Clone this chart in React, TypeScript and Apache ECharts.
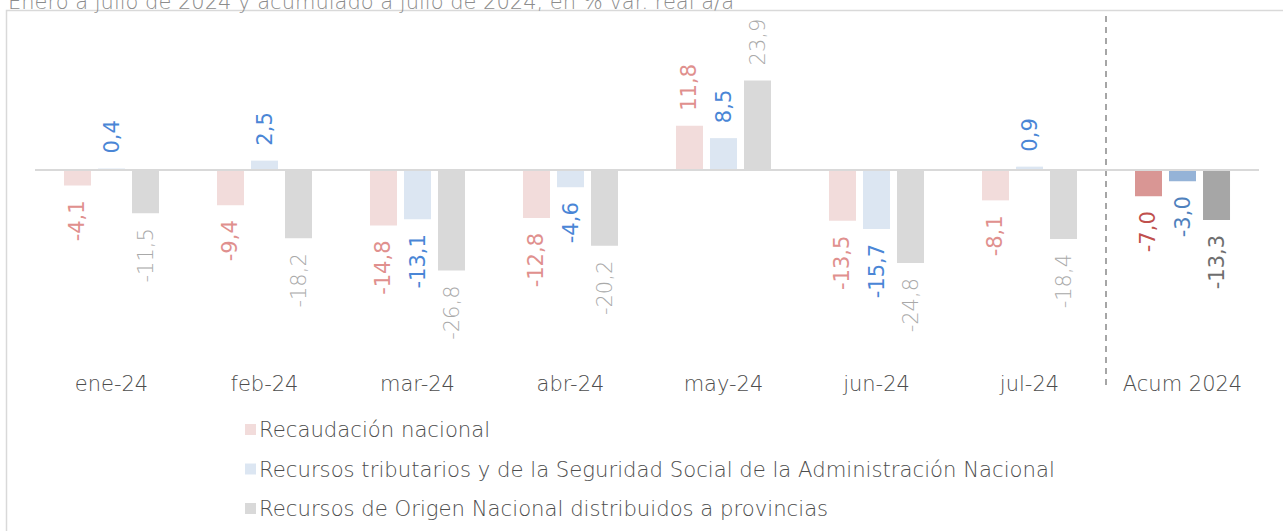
import React, { useEffect, useRef } from "react";
import * as echarts from "echarts";

const categories = ["ene-24", "feb-24", "mar-24", "abr-24", "may-24", "jun-24", "jul-24", "Acum 2024"];
const seriesNames = [
  "Recaudación nacional",
  "Recursos tributarios y de la Seguridad Social de la Administración Nacional",
  "Recursos de Origen Nacional distribuidos a provincias",
];
const recaudacion = [-4.1, -9.4, -14.8, -12.8, 11.8, -13.5, -8.1, -7.0];
const tributarios = [0.4, 2.5, -13.1, -4.6, 8.5, -15.7, 0.9, -3.0];
const origenNacional = [-11.5, -18.2, -26.8, -20.2, 23.9, -24.8, -18.4, -13.3];
const titleText = "Enero a julio de 2024 y acumulado a julio de 2024, en % var. real a/a";

const FONT = "'DejaVu Sans', sans-serif";

const barColors = ["#f2dcdb", "#dce6f2", "#d9d9d9"];
const accColors = ["#d99694", "#95b3d7", "#a6a6a6"];
const labelColors = ["#e0908e", "#4a86d6", "#a9a9a9"];
const accLabelColors = ["#c0504d", "#4f81bd", "#6e6e6e"];
const labelWeights = [400, 400, 200];

const fmt = (v: number) => v.toFixed(1).replace(".", ",");

export default function App() {
  const ref = useRef<HTMLDivElement>(null);
  useEffect(() => {
    document.body.style.margin = "0";
    if (!ref.current) return;
    const chart = echarts.init(ref.current, undefined, { renderer: "svg" });
    const all = [recaudacion, tributarios, origenNacional];
    const series = all.map((vals, si) => ({
      name: seriesNames[si],
      type: "bar",
      barWidth: 27,
      barGap: "26%",
      itemStyle: { color: barColors[si] },
      data: vals.map((v, i) => {
        const acc = i === vals.length - 1;
        return {
          value: v,
          itemStyle: acc ? { color: accColors[si] } : undefined,
          label: {
            show: true,
            formatter: fmt(v),
            rotate: 90,
            position: v >= 0 ? "top" : "bottom",
            align: v >= 0 ? "left" : "right",
            verticalAlign: "middle",
            distance: 15,
            fontFamily: FONT,
            fontSize: 21,
            fontWeight: acc ? 400 : labelWeights[si],
            color: acc ? accLabelColors[si] : labelColors[si],
          },
        };
      }),
      markLine:
        si === 0
          ? {
              silent: true,
              symbol: "none",
              label: { show: false },
              lineStyle: { color: "#d9d9d9", width: 2, type: "solid" },
              data: [{ yAxis: 0 }],
            }
          : undefined,
    }));
    chart.setOption({
      animation: false,
      grid: { left: 35, right: 24, top: 20, bottom: 173.5 },
      xAxis: {
        type: "category",
        data: categories,
        axisLine: { show: false },
        axisTick: { show: false },
        axisLabel: { interval: 0, fontFamily: FONT, fontSize: 21, fontWeight: 200, color: "#4d4d4d", margin: 16 },
      },
      yAxis: {
        type: "value",
        min: -50,
        max: 40,
        interval: 10,
        show: false,
        splitLine: { show: false },
      },
      legend: {
        orient: "vertical",
        left: 240,
        top: 414,
        itemWidth: 11,
        itemHeight: 11,
        itemGap: 18.5,
        icon: "rect",
        textStyle: { fontFamily: FONT, fontSize: 21.2, fontWeight: 200, color: "#4d4d4d", padding: [0, 0, 0, -2] },
        data: seriesNames,
      },
      graphic: [
        {
          type: "rect",
          shape: { x: 6.5, y: 10.5, width: 1400, height: 700 },
          style: { fill: "none", stroke: "#d9d9d9", lineWidth: 1.5 },
          silent: true,
          z: -1,
        },
        {
          type: "text",
          style: {
            text: titleText,
            x: 8,
            y: 12,
            verticalAlign: "bottom",
            fontFamily: FONT,
            fontSize: 21,
            fontWeight: 200,
            fill: "#8c8c8c",
          },
        },
        {
          type: "line",
          shape: { x1: 1106, y1: 16, x2: 1106, y2: 390 },
          style: { stroke: "#a6a6a6", lineWidth: 2, lineDash: [6, 5] },
          silent: true,
        },
      ],
      series,
    });
    return () => chart.dispose();
  }, []);
  return <div ref={ref} style={{ width: 1283, height: 531 }} />;
}
